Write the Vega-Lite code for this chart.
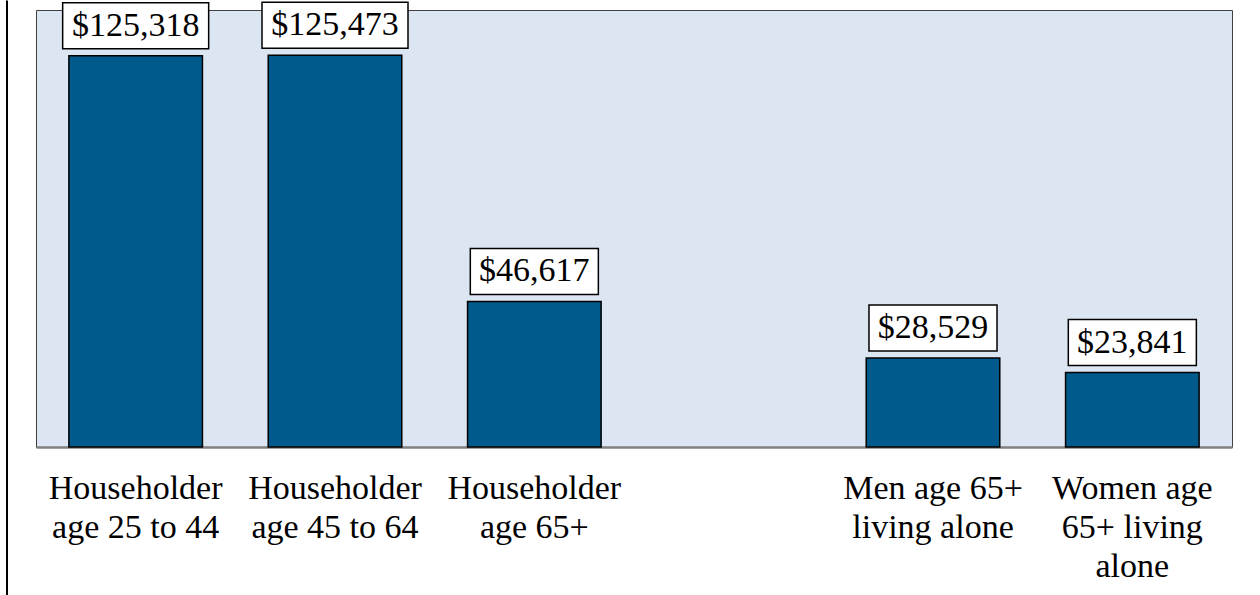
{
  "$schema": "https://vega.github.io/schema/vega-lite/v6.json",
  "width": 1196,
  "height": 437,
  "autosize": "none",
  "padding": {"left": 36, "top": 10, "right": 28, "bottom": 148},
  "background": "white",
  "config": {
    "view": {"fill": "#dce6f2", "stroke": "#404040", "strokeWidth": 1},
    "font": "Liberation Serif"
  },
  "data": {
    "values": [
      {"group": "Householder|age 25 to 44", "income": 125318},
      {"group": "Householder|age 45 to 64", "income": 125473},
      {"group": "Householder|age 65+", "income": 46617},
      {"group": "Men age 65+|living alone", "income": 28529},
      {"group": "Women age|65+ living|alone", "income": 23841}
    ]
  },
  "encoding": {
    "x": {
      "field": "group",
      "type": "nominal",
      "sort": null,
      "scale": {
        "domain": ["Householder|age 25 to 44", "Householder|age 45 to 64", "Householder|age 65+", "gap", "Men age 65+|living alone", "Women age|65+ living|alone"],
        "paddingInner": 0.33,
        "paddingOuter": 0.165
      },
      "axis": {
        "title": null,
        "labelExpr": "datum.label == 'gap' ? '' : split(datum.label, '|')",
        "labelAngle": 0,
        "ticks": false,
        "tickSize": 0,
        "labelPadding": 24,
        "labelFontSize": 34,
        "labelLineHeight": 39,
        "labelColor": "black",
        "labelFont": "Liberation Serif",
        "labelLimit": 400,
        "labelOverlap": false,
        "labelBound": false,
        "domainColor": "#808080",
        "domainWidth": 2.5
      }
    }
  },
  "layer": [
    {
      "mark": {"type": "bar", "fill": "#005a8c", "stroke": "black", "strokeWidth": 1.5},
      "encoding": {
        "y": {"field": "income", "type": "quantitative", "scale": {"domain": [0, 140000]}, "axis": null}
      }
    },
    {
      "mark": {"type": "point", "filled": true, "fill": "white", "stroke": "black", "strokeWidth": 1.5, "opacity": 1, "yOffset": -30, "size": 21316},
      "encoding": {
        "y": {"field": "income", "type": "quantitative", "scale": {"domain": [0, 140000]}, "axis": null},
        "shape": {
          "condition": {"test": "datum.income >= 100000", "value": "M-1,-0.315V0.315H1V-0.315Z"},
          "value": "M-0.877,-0.315V0.315H0.877V-0.315Z"
        }
      }
    },
    {
      "mark": {"type": "text", "yOffset": -30, "baseline": "middle", "fontSize": 34, "color": "black"},
      "encoding": {
        "y": {"field": "income", "type": "quantitative", "scale": {"domain": [0, 140000]}, "axis": null},
        "text": {"field": "income", "type": "quantitative", "format": "$,"}
      }
    },
    {
      "mark": {"type": "text", "opacity": 0},
      "encoding": {
        "y": {
          "field": "frame",
          "type": "quantitative",
          "scale": {"domain": [0, 1], "range": [585, -10]},
          "axis": {
            "orient": "left",
            "title": null,
            "labels": false,
            "ticks": false,
            "grid": false,
            "domain": true,
            "domainColor": "black",
            "domainWidth": 2,
            "offset": 29.5
          }
        },
        "text": {"value": ""}
      }
    }
  ],
  "resolve": {"scale": {"y": "independent"}, "axis": {"y": "independent"}}
}
